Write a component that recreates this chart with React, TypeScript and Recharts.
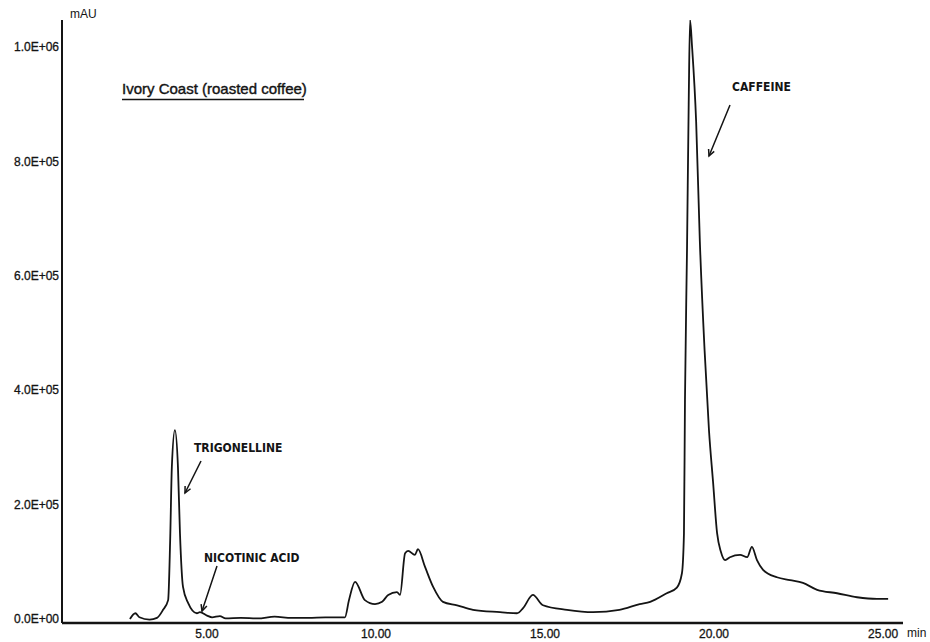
import { LineChart, Line, XAxis, YAxis } from 'recharts';

// retention time (min) and detector signal (mAU)
const TIME_MIN = [
  2.72, 2.88, 3.0, 3.3, 3.52, 3.7, 3.85, 3.91, 3.96, 4.05, 4.14, 4.2, 4.29, 4.44, 4.7, 4.79, 5.0, 5.15, 5.38, 5.55,
  6.0, 6.5, 7.0, 7.5, 8.0, 8.5, 9.08, 9.2, 9.38, 9.67, 9.97, 10.18, 10.36, 10.62, 10.71, 10.86, 10.95, 11.15,
  11.24, 11.45, 11.69, 11.98, 12.4, 12.87, 13.67, 14.17, 14.35, 14.64, 14.94, 15.65, 16.42, 17.2, 17.8, 18.11,
  18.6, 18.9, 19.05, 19.11, 19.14, 19.2, 19.25, 19.29, 19.35, 19.47, 19.58, 19.72, 19.85, 19.97, 20.09, 20.2, 20.33,
  20.47, 20.77, 20.98, 21.12, 21.27, 21.45, 21.86, 22.25, 22.63, 23.05, 23.64, 24.23, 24.82, 25.15,
];
const SIGNAL_MAU = [
  0, 10000, 3000, -1000, 2000, 16000, 33000, 138000, 266000, 330000, 266000, 150000, 56000, 28000, 10000, 12000, 6000, 3000, 5000, 1000,
  2000, 1000, 4000, 2000, 2000, 3000, 3000, 33000, 65000, 33000, 26000, 30000, 42000, 47000, 42000, 115000, 119000, 112000,
  122000, 91000, 56000, 30000, 24000, 16000, 12000, 10000, 19000, 42000, 24000, 16000, 12000, 16000, 26000, 30000,
  45000, 55000, 80000, 150000, 383000, 645000, 900000, 1047000, 1000000, 870000, 660000, 470000, 330000, 240000, 150000, 118000, 103000,
  108000, 112000, 108000, 126000, 103000, 86000, 73000, 68000, 63000, 51000, 45000, 38000, 35000, 35000,
];
const X_TICKS = [5, 10, 15, 20, 25];
const Y_TICKS = [0, 200000, 400000, 600000, 800000, 1000000];

const data = TIME_MIN.map((t, i) => ({ t, signal: SIGNAL_MAU[i] }));

const INK = '#141414';
const AXIS_FONT = '"Liberation Sans", Arial, sans-serif';
const NOTE_FONT = '"Liberation Sans Narrow", "DejaVu Sans Condensed", sans-serif';

function sci(v: number) {
  if (v === 0) return '0.0E+00';
  const e = Math.floor(Math.log10(Math.abs(v)));
  const m = (v / Math.pow(10, e)).toFixed(1);
  return `${m}E+${String(e).padStart(2, '0')}`;
}

function Arrow({ x1, y1, x2, y2 }: { x1: number; y1: number; x2: number; y2: number }) {
  const a = Math.atan2(y2 - y1, x2 - x1);
  const h = 7;
  const w = 0.45;
  const p1 = [x2 - h * Math.cos(a - w), y2 - h * Math.sin(a - w)];
  const p2 = [x2 - h * Math.cos(a + w), y2 - h * Math.sin(a + w)];
  return (
    <g stroke={INK} strokeWidth={1.5} fill="none">
      <line x1={x1} y1={y1} x2={x2} y2={y2} />
      <polyline points={`${p1[0]},${p1[1]} ${x2},${y2} ${p2[0]},${p2[1]}`} />
    </g>
  );
}

export default function App() {
  return (
    <div style={{ position: 'absolute', left: 0, top: 0, width: 930, height: 642, background: '#fff' }}>
      <LineChart width={930} height={642} data={data} margin={{ top: 20, right: 27, bottom: 0, left: 0 }}>
        <XAxis
          dataKey="t"
          type="number"
          domain={[0.71, 25.59]}
          allowDataOverflow
          ticks={X_TICKS}
          tickFormatter={(v) => v.toFixed(2)}
          height={19}
          tickLine={false}
          tickSize={4}
          tickMargin={2}
          axisLine={{ stroke: INK, strokeWidth: 2.4 }}
          tick={{ fontFamily: AXIS_FONT, fontSize: 12, fill: INK, stroke: INK, strokeWidth: 0.3 }}
        />
        <YAxis
          type="number"
          domain={[-7000, 1047000]}
          allowDataOverflow
          ticks={Y_TICKS}
          tickFormatter={sci}
          width={62}
          tickLine={false}
          tickSize={1}
          tickMargin={2}
          axisLine={{ stroke: INK, strokeWidth: 2 }}
          tick={{ fontFamily: AXIS_FONT, fontSize: 12, fill: INK, stroke: INK, strokeWidth: 0.3 }}
        />
        <Line
          dataKey="signal"
          type="monotone"
          stroke={INK}
          strokeWidth={1.8}
          dot={false}
          isAnimationActive={false}
        />
      </LineChart>
      <svg width={930} height={642} style={{ position: 'absolute', left: 0, top: 0, pointerEvents: 'none' }}>
        <text x={70} y={18} fontFamily={AXIS_FONT} fontSize={12} fill={INK}>mAU</text>
        <text x={907} y={637} fontFamily={AXIS_FONT} fontSize={12} fill={INK}>min</text>
        <text x={122} y={94} fontFamily={AXIS_FONT} fontSize={15} fill={INK} stroke={INK} strokeWidth={0.4}>
          Ivory Coast (roasted coffee)
        </text>
        <line x1={122} y1={99.5} x2={304} y2={99.5} stroke={INK} strokeWidth={1.6} />
        <text x={732} y={91} fontFamily={NOTE_FONT} fontWeight="bold" fontSize={12} fill={INK}>CAFFEINE</text>
        <Arrow x1={730} y1={105} x2={709} y2={156} />
        <text x={194} y={452} fontFamily={NOTE_FONT} fontWeight="bold" fontSize={12} fill={INK}>TRIGONELLINE</text>
        <Arrow x1={201} y1={461} x2={185} y2={493} />
        <text x={204} y={562} fontFamily={NOTE_FONT} fontWeight="bold" fontSize={12} fill={INK}>NICOTINIC ACID</text>
        <Arrow x1={217} y1={566} x2={202} y2={611} />
      </svg>
    </div>
  );
}
